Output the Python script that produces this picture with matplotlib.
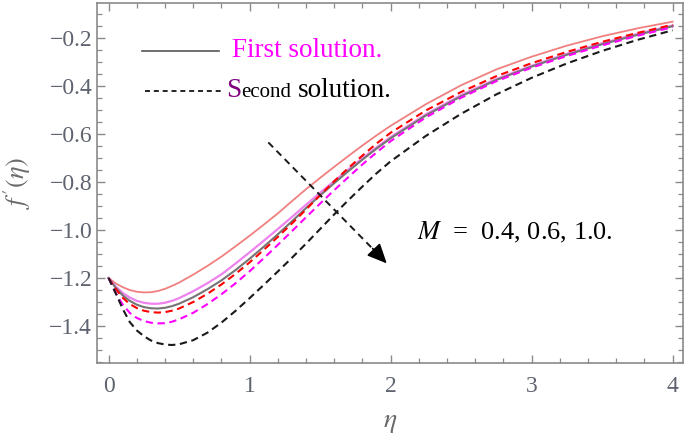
import numpy as np
import matplotlib
matplotlib.use('Agg')
import matplotlib.pyplot as plt
from matplotlib.lines import Line2D
from matplotlib.ticker import MultipleLocator

plt.rcParams['font.family'] = ['Liberation Serif', 'DejaVu Serif']
plt.rcParams['mathtext.fontset'] = 'stix'

# eta grid
eta = [0, 0.05, 0.1, 0.15, 0.2, 0.25, 0.3, 0.35, 0.4, 0.45, 0.5, 0.6, 0.7, 0.8, 0.9,
       1.0, 1.1, 1.2, 1.3, 1.4, 1.5, 1.6, 1.7, 1.8, 1.9, 2.0, 2.25, 2.5, 2.75,
       3.0, 3.25, 3.5, 3.75, 4.0]

# first solutions (solid)
first_salmon = [-1.2, -1.222, -1.238, -1.250, -1.257, -1.260, -1.259, -1.254, -1.245, -1.233,
                -1.219, -1.186, -1.150, -1.111, -1.068, -1.024, -0.978, -0.931, -0.880, -0.830,
                -0.783, -0.737, -0.692, -0.648, -0.606, -0.566, -0.476, -0.397, -0.331,
                -0.278, -0.232, -0.193, -0.160, -0.132]
first_violet = [-1.2, -1.235, -1.262, -1.281, -1.295, -1.303, -1.307, -1.307, -1.303, -1.295,
                -1.284, -1.255, -1.222, -1.185, -1.140, -1.093, -1.045, -0.996, -0.946, -0.895,
                -0.845, -0.796, -0.748, -0.701, -0.656, -0.613, -0.518, -0.438, -0.371,
                -0.316, -0.266, -0.222, -0.183, -0.148]
first_gray = [-1.2, -1.240, -1.272, -1.295, -1.311, -1.321, -1.326, -1.327, -1.324, -1.317,
              -1.307, -1.280, -1.247, -1.210, -1.167, -1.120, -1.070, -1.018, -0.964, -0.909,
              -0.856, -0.805, -0.755, -0.707, -0.661, -0.618, -0.523, -0.443, -0.375,
              -0.319, -0.270, -0.226, -0.187, -0.151]

# second solutions (dashed)
second_red = [-1.2, -1.245, -1.282, -1.308, -1.325, -1.336, -1.342, -1.344, -1.342, -1.336,
              -1.327, -1.300, -1.266, -1.227, -1.183, -1.135, -1.083, -1.029, -0.973, -0.915,
              -0.855, -0.797, -0.742, -0.690, -0.640, -0.595, -0.502, -0.425, -0.359,
              -0.305, -0.258, -0.216, -0.179, -0.145]
second_magenta = [-1.2, -1.262, -1.310, -1.345, -1.366, -1.379, -1.386, -1.389, -1.388, -1.382,
                  -1.372, -1.345, -1.309, -1.268, -1.222, -1.172, -1.118, -1.062, -1.005, -0.947,
                  -0.890, -0.834, -0.780, -0.727, -0.677, -0.630, -0.531, -0.449, -0.380,
                  -0.324, -0.275, -0.231, -0.191, -0.155]
second_black = [-1.2, -1.262, -1.328, -1.383, -1.418, -1.442, -1.460, -1.471, -1.477, -1.479,
                -1.476, -1.459, -1.428, -1.386, -1.337, -1.284, -1.229, -1.173, -1.116, -1.057,
                -0.996, -0.935, -0.876, -0.819, -0.764, -0.714, -0.608, -0.516, -0.435,
                -0.366, -0.306, -0.254, -0.208, -0.168]

# annotation arrow (start, end) in data coords
arrow_start = (1.133, -0.635)
arrow_end = (1.973, -1.139)

fig = plt.figure(figsize=(6.85, 4.37), dpi=100)
ax = fig.add_axes([0.1416, 0.1693, 0.8555, 0.824])

dash = (0, (3.5, 2.2))
ax.plot(eta, first_salmon, color='#F08080', lw=1.3)
ax.plot(eta, first_violet, color='#EE82EE', lw=1.6)
ax.plot(eta, first_gray, color='#757575', lw=1.5)
ax.plot(eta, second_red, color='#FF0000', lw=1.5, linestyle=dash)
ax.plot(eta, second_magenta, color='#FF00FF', lw=1.5, linestyle=dash)
ax.plot(eta, second_black, color='#1a1a1a', lw=1.5, linestyle=dash)

# dashed arrow
ax.plot([arrow_start[0], arrow_end[0] - 0.06], [arrow_start[1], arrow_end[1] + 0.037],
        color='#1a1a1a', lw=1.4, linestyle=(0, (3.5, 2.5)))
ax.annotate('', xy=arrow_end, xytext=(arrow_end[0] - 0.1, arrow_end[1] + 0.062),
            arrowprops=dict(arrowstyle='-|>,head_length=1.2,head_width=0.55',
                            color='black', lw=1.2, shrinkA=0, shrinkB=0))

ax.text(0.5456, 0.342, '$M$  =  0.4, 0.6, 1.0.', transform=ax.transAxes,
        fontsize=19, va='baseline', ha='left', color='black')

# legend drawn by hand
ax.add_line(Line2D([0.0768, 0.208], [0.8675, 0.8675], transform=ax.transAxes,
                   color='#555555', lw=1.2))
ax.add_line(Line2D([0.082, 0.213], [0.756, 0.756], transform=ax.transAxes,
                   color='black', lw=1.2, linestyle=(0, (3, 2.3))))
ax.text(0.230, 0.851, 'First solution.', transform=ax.transAxes, fontsize=19.5,
        color='#FF00FF', va='baseline')
ax.text(0.221, 0.740, 'S', transform=ax.transAxes, fontsize=19.5,
        color='#800080', va='baseline')
ax.text(0.246, 0.740, 'econd', transform=ax.transAxes, fontsize=15,
        color='black', va='baseline')
ax.text(0.343, 0.740, 'solution.', transform=ax.transAxes, fontsize=19.5,
        color='black', va='baseline')

ax.set_xlim(-0.082, 4.074)
ax.set_ylim(-1.554, -0.054)
ax.xaxis.set_major_locator(MultipleLocator(1))
ax.xaxis.set_minor_locator(MultipleLocator(0.2))
ax.yaxis.set_major_locator(MultipleLocator(0.2))
ax.yaxis.set_minor_locator(MultipleLocator(0.05))

frame_col = '#8a8a8a'
for s in ax.spines.values():
    s.set_color(frame_col)
    s.set_linewidth(1.2)
ax.tick_params(which='both', direction='in', top=True, right=True,
               color=frame_col, labelcolor='#5f6470', labelsize=17)
ax.tick_params(which='major', length=6, width=1.0)
ax.tick_params(which='minor', length=3.5, width=0.9)
ax.tick_params(axis='x', which='major', pad=9)
ax.set_yticks(np.arange(-1.4, -0.19, 0.2))
ax.set_yticklabels(['\u22121.4', '\u22121.2', '\u22121.0', '\u22120.8', '\u22120.6', '\u22120.4', '\u22120.2'])

ax.set_xlabel(r'$\eta$', fontsize=20, color='#6a6a6a', labelpad=10)
ax.set_ylabel(r"$f\,'(\eta)$", fontsize=19, color='#6a6a6a', labelpad=12)

fig.savefig('out.png', dpi=100)
